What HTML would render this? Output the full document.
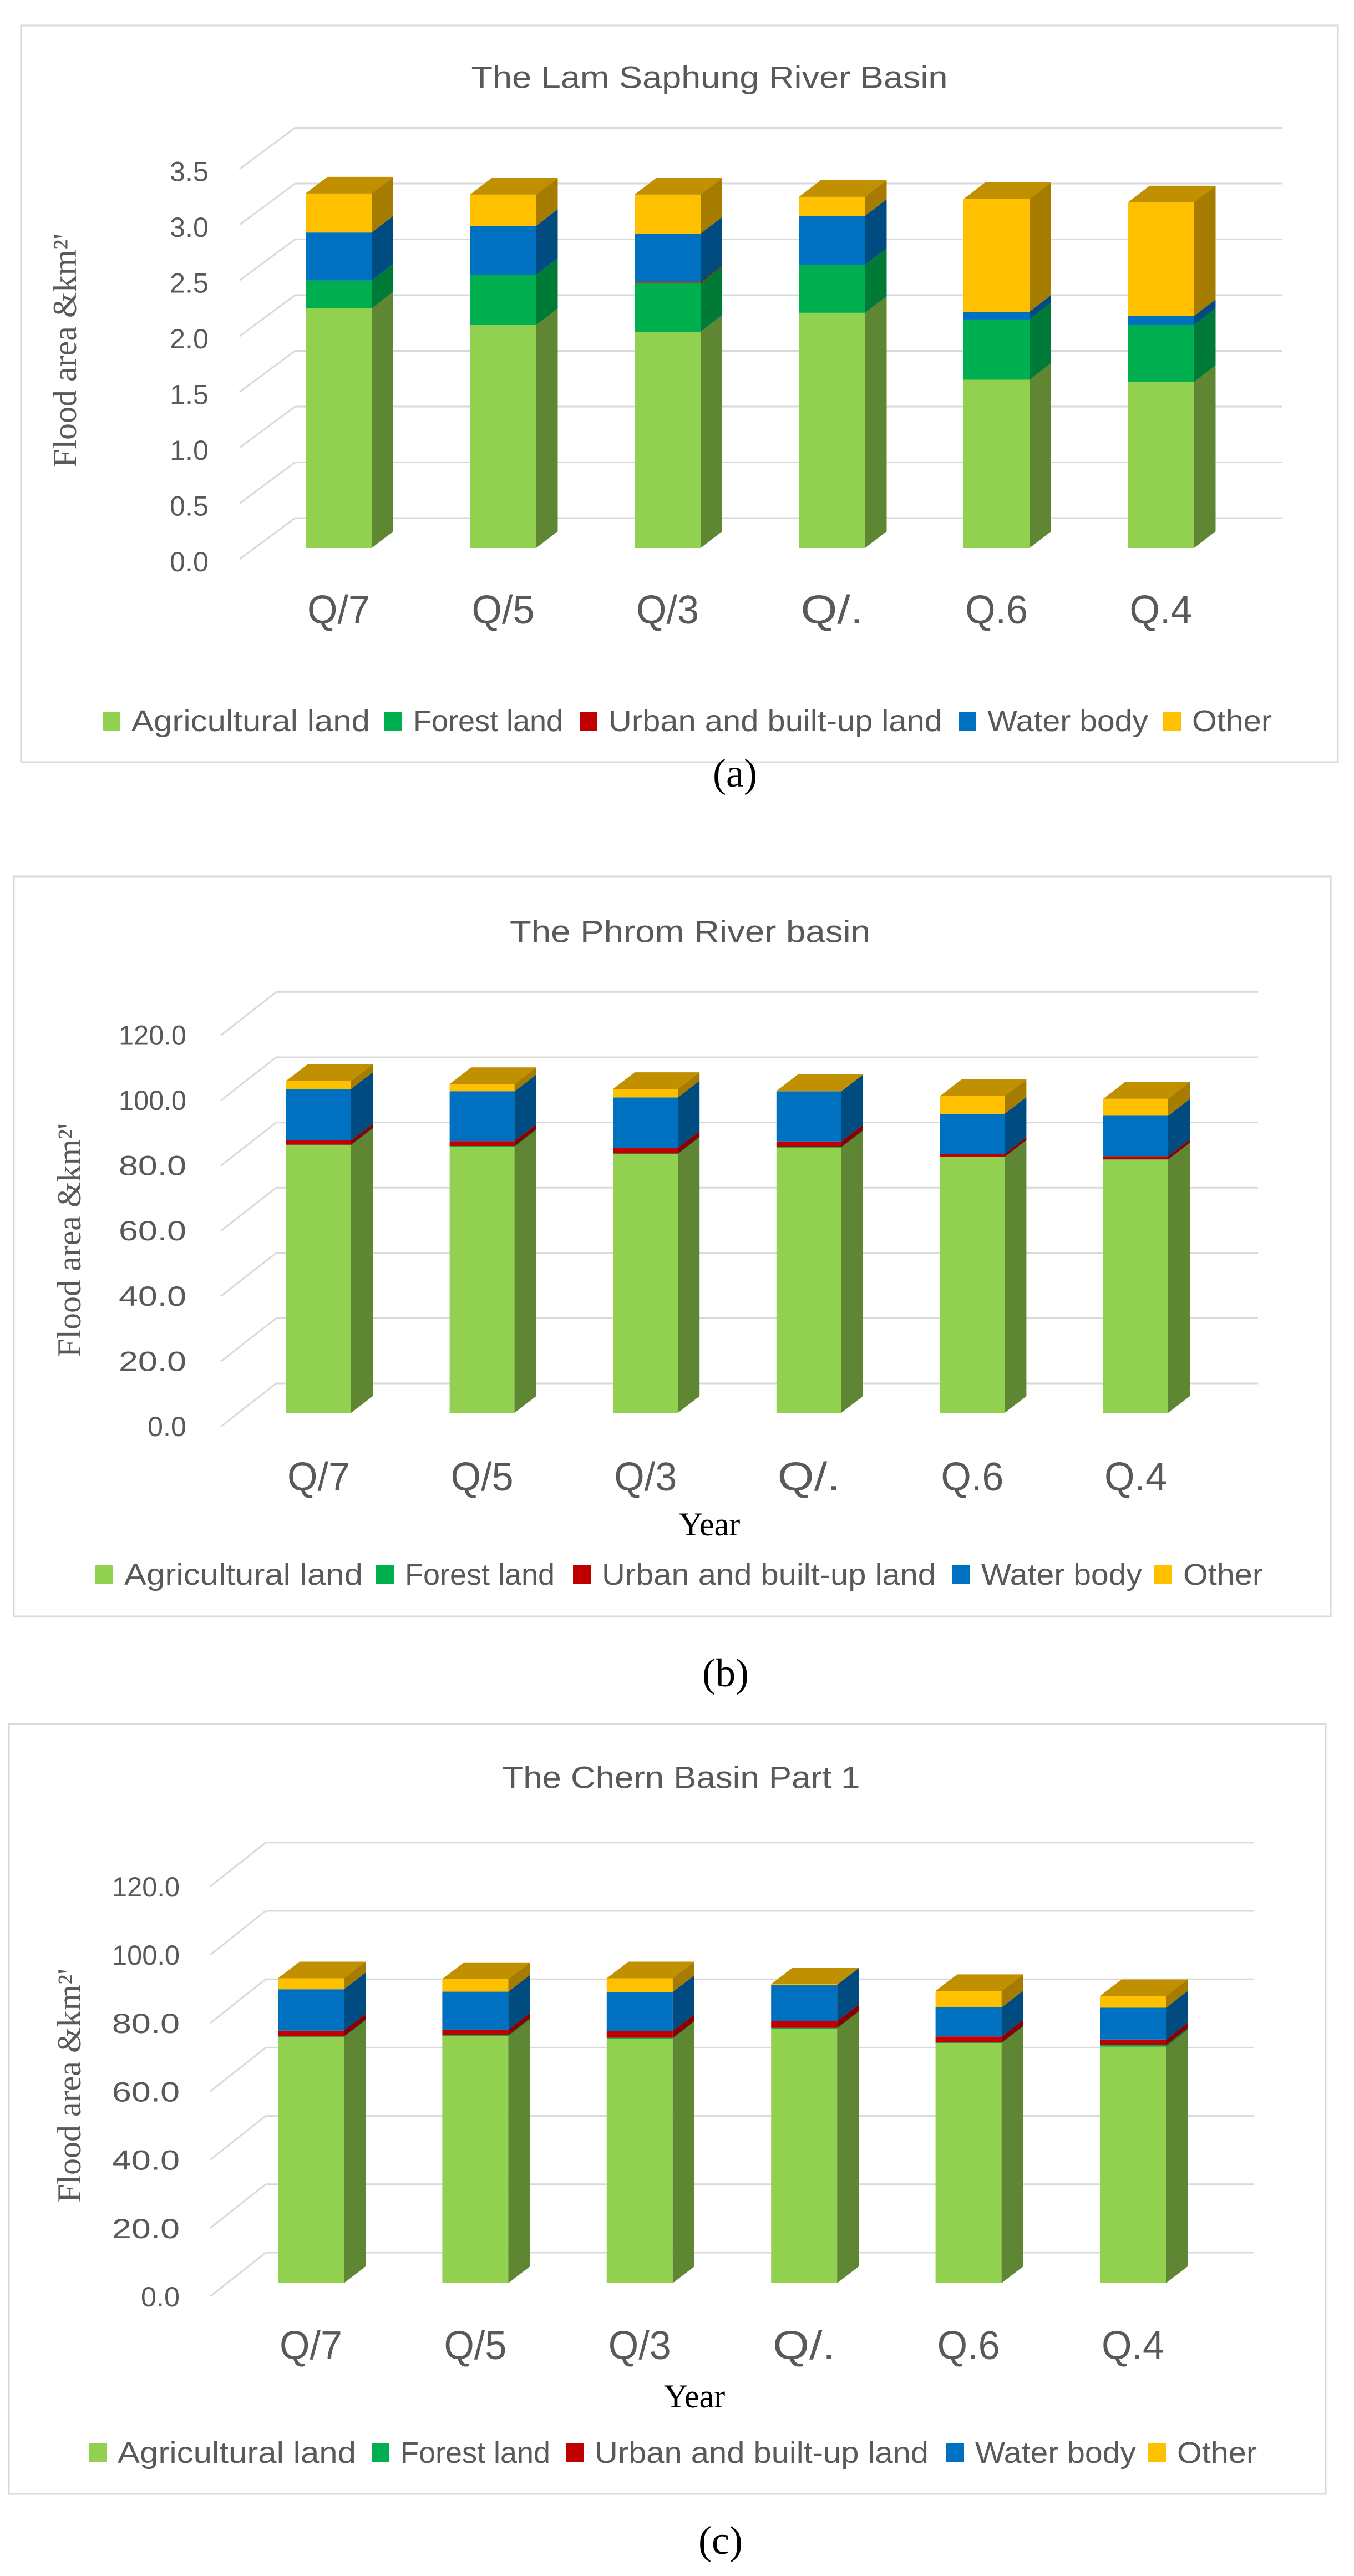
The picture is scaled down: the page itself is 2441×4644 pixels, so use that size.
<!DOCTYPE html>
<html><head><meta charset="utf-8"><style>
html,body{margin:0;padding:0;background:#fff;}
svg{display:block;}
</style></head><body>
<svg id="root" width="2441" height="4644" viewBox="0 0 2441 4644" xmlns="http://www.w3.org/2000/svg" style="font-family:'Liberation Sans',sans-serif"></svg>
<script>
// ---- data ----
const years = ["Q/7","Q/5","Q/3","Q/.","Q.6","Q.4"];
const seriesNames = ["Agricultural land","Forest land","Urban and built-up land","Water body","Other"];
// chart (a)
const aAgri  = [2.15,2.00,1.94,2.11,1.51,1.49];
const aForest= [0.25,0.45,0.44,0.43,0.54,0.51];
const aUrban = [0.00,0.00,0.01,0.00,0.00,0.00];
const aWater = [0.43,0.44,0.43,0.44,0.07,0.08];
const aOther = [0.35,0.28,0.35,0.17,1.01,1.02];
const aTicks = ["0.0","0.5","1.0","1.5","2.0","2.5","3.0","3.5"];
// chart (b)
const bAgri  = [82.0,81.5,79.3,81.3,78.4,77.6];
const bForest= [0.2,0.3,0.2,0.2,0.1,0.1];
const bUrban = [1.3,1.5,1.8,1.7,0.9,1.0];
const bWater = [15.8,15.3,15.4,15.4,12.3,12.4];
const bOther = [2.5,2.2,2.6,0.1,5.4,5.2];
const bTicks = ["0.0","20.0","40.0","60.0","80.0","100.0","120.0"];
// chart (c)
const cAgri  = [72.0,72.3,71.6,74.5,70.2,69.2];
const cForest= [0.2,0.3,0.2,0.2,0.2,0.5];
const cUrban = [1.7,1.6,2.0,2.0,1.8,1.6];
const cWater = [12.1,11.1,11.4,10.6,8.5,9.3];
const cOther = [3.2,3.7,4.0,0.2,4.8,3.4];
const cTicks = ["0.0","20.0","40.0","60.0","80.0","100.0","120.0"];

const NS="http://www.w3.org/2000/svg";
const root=document.getElementById('root');
const front=["#92d050","#00b050","#c00000","#0070c0","#ffc000"];
const side=["#5f8733","#007a37","#8a0000","#004b80","#a67c00"];
const topc=["#739f3c","#008a40","#9a0000","#005a99","#c09000"];
const SERIF="font-family:'Liberation Serif',serif";
function el(tag,attrs,parent){const e=document.createElementNS(NS,tag);for(const k in attrs)e.setAttribute(k,attrs[k]);(parent||root).appendChild(e);return e;}

function drawChart(c,series,ticks,step){
  const g=el('g',{});
  
  
  const box=el('rect',{x:c.box[0],y:c.box[1],width:c.box[2]-c.box[0],height:c.box[3]-c.box[1],fill:'#fff',stroke:'#d9d9d9','stroke-width':3},g);
  
  
  const t=el('text',{x:c.titleX,y:c.titleY,'text-anchor':'middle','dominant-baseline':'central','font-size':56,fill:'#595959',textLength:c.titleW,lengthAdjust:'spacingAndGlyphs'},g);
  t.textContent=c.title;
  
  
  const backZero=c.base-c.backOff;
  const yv=v=>c.base-v*c.ppu;
  ticks.forEach((lab,i)=>{
    const v=i*step;
    const yb=backZero-v*c.ppu;
    const gl=el('line',{x1:c.gridX1,y1:yb,x2:c.gridX2,y2:yb,stroke:'#d9d9d9','stroke-width':3},g);
    
    
    const dl=el('line',{x1:c.gridX1-100,y1:yb+c.diagDy,x2:c.gridX1,y2:yb,stroke:'#d9d9d9','stroke-width':3},g);
    
    
    const tl=el('text',{x:c.labelX,y:c.base+25-v*c.ppu,'text-anchor':'end','dominant-baseline':'central','font-size':50,fill:'#595959',textLength:lab.length>3?122:70,lengthAdjust:'spacingAndGlyphs'},g);
    tl.textContent=lab;
    
    
  });
  const dx=39,dy=30;
  years.forEach((yr,i)=>{
    const x=c.barX0+i*c.barStep, w=c.barW;
    let cum=0, lastTop=null, lastIdx=0;
    series.forEach((s,k)=>{
      const v=s[i]; if(v<=0)return;
      const y0=yv(cum), y1=yv(cum+v); cum+=v;
      const r=el('rect',{x:x,y:y1,width:w,height:y0-y1,fill:front[k]},g);
      
      
      const p=el('polygon',{points:`${x+w},${y1} ${x+w+dx},${y1-dy} ${x+w+dx},${y0-dy} ${x+w},${y0}`,fill:side[k]},g);
      
      
      lastTop=y1; lastIdx=k;
    });
    const tp=el('polygon',{points:`${x},${lastTop} ${x+dx},${lastTop-dy} ${x+w+dx},${lastTop-dy} ${x+w},${lastTop}`,fill:topc[lastIdx]},g);
    
    
    const xl=el('text',{x:x+w/2,y:c.xLabY,'text-anchor':'middle','dominant-baseline':'central','font-size':72,fill:'#595959',textLength:113,lengthAdjust:'spacingAndGlyphs'},g);
    xl.textContent=yr;
    
    
  });
  const yt=el('text',{x:0,y:0,transform:`translate(${c.yTitleX},${c.yTitleY}) rotate(-90)`,'text-anchor':'middle','dominant-baseline':'central','font-size':60,fill:'#595959',style:SERIF},g);
  yt.textContent="Flood area \u0026km\u00b2'";
  
  
  if(c.yearY){
    const xt=el('text',{x:c.yearX,y:c.yearY,'text-anchor':'middle','dominant-baseline':'central','font-size':60,fill:'#000',style:SERIF},g);
    xt.textContent='Year';
    
    
  }
  const widths=[430,270,602,290,144];
  seriesNames.forEach((n,k)=>{
    const lx=c.legX[k];
    const sq=el('rect',{x:lx,y:c.legY-17,width:32,height:34,fill:front[k]},g);
    
    
    const lt=el('text',{x:lx+52,y:c.legY,'dominant-baseline':'central','font-size':54,fill:'#595959',textLength:widths[k],lengthAdjust:'spacingAndGlyphs'},g);
    lt.textContent=n;
    
    
  });
  const cap=el('text',{x:c.capX,y:c.capY,'text-anchor':'middle','dominant-baseline':'central','font-size':72,fill:'#000',style:SERIF},g);
  cap.textContent=c.cap;
  
  
}

drawChart({name:'chart-a',box:[38,46,2412,1374],title:'The Lam Saphung River Basin',titleX:1279,titleY:139,titleW:859,
  base:988,ppu:201,backOff:54,diagDy:74,gridX1:532,gridX2:2311,labelX:376,
  barX0:551,barStep:296.5,barW:119,xLabY:1100,yTitleX:117,yTitleY:632,
  legX:[185,693,1045,1728,2097],legY:1300,capX:1325,capY:1394,cap:'(a)'},
  [aAgri,aForest,aUrban,aWater,aOther],aTicks,0.5);

drawChart({name:'chart-b',box:[25,1580,2399,2914],title:'The Phrom River basin',titleX:1244,titleY:1679,titleW:650,
  base:2547,ppu:5.88,backOff:53,diagDy:78,gridX1:498,gridX2:2268,labelX:336,
  barX0:516,barStep:294.6,barW:117,xLabY:2663,yearX:1279,yearY:2748,yTitleX:125,yTitleY:2236,
  legX:[172,678,1033,1717,2081],legY:2839,capX:1308,capY:3016,cap:'(b)'},
  [bAgri,bForest,bUrban,bWater,bOther],bTicks,20);

drawChart({name:'chart-c',box:[16,3108,2390,4496],title:'The Chern Basin Part 1',titleX:1228,titleY:3204,titleW:645,
  base:4116,ppu:6.16,backOff:55,diagDy:79,gridX1:479,gridX2:2261,labelX:324,
  barX0:501,barStep:296.4,barW:119,xLabY:4229,yearX:1252,yearY:4320,yTitleX:125,yTitleY:3760,
  legX:[160,670,1020,1706,2070],legY:4422,capX:1299,capY:4580,cap:'(c)'},
  [cAgri,cForest,cUrban,cWater,cOther],cTicks,20);
</script>
</body></html>
